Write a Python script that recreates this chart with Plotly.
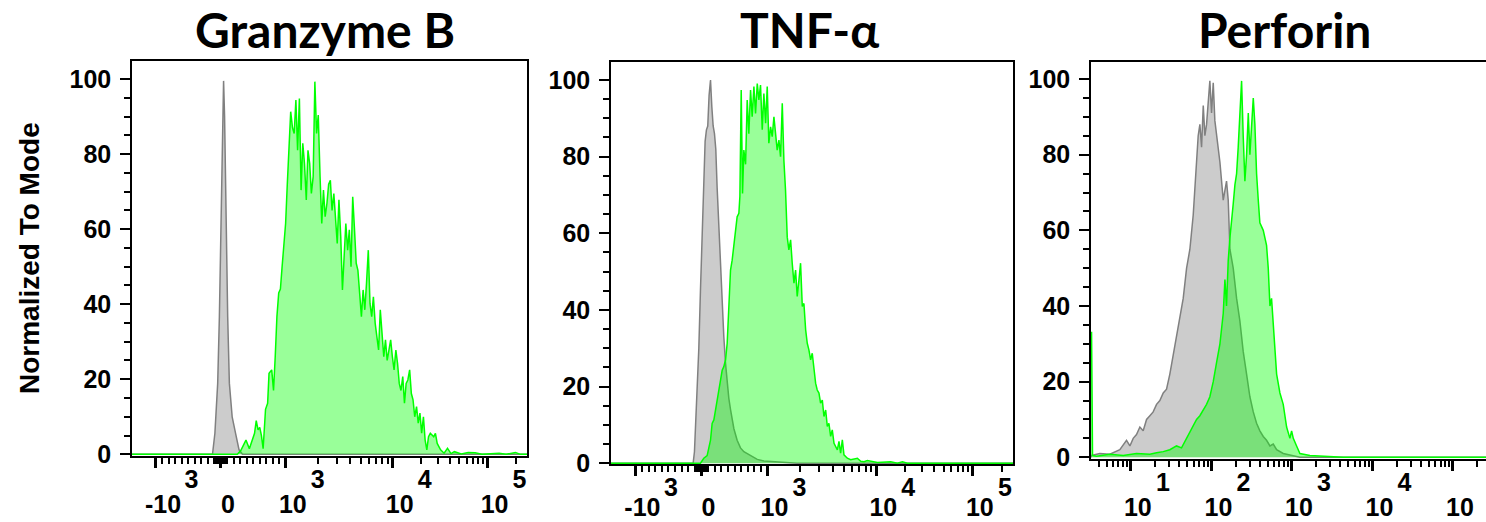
import math
import plotly.graph_objects as go

# ---------------- data ----------------
# Granzyme B and TNF-a: x in biexponential display channels (0 = zero signal),
# y in percent of mode. Perforin: x in log10 of intensity.
titles = ["Granzyme B", "TNF-α", "Perforin"]
y_title = "Normalized To Mode"

gzb_gray_x = [-89, -8.4, -6.0, -3.2, -1.5, 0.2, 1.6, 2.7, 3.7, 5.1, 6.8, 8.5, 11.3, 14.7, 18.2, 21.6, 306.5]
gzb_gray_y = [0, 0, 5.6, 18.9, 36.7, 63.3, 90, 99.5, 90, 63.3, 36.7, 18.9, 10, 5.6, 1.2, 0, 0]

gzb_green_x = [-89, 16.5, 19.9, 25.1, 28.5, 33.7, 35.4, 37.2, 38.9, 40.6, 42.3, 44.7, 46.8, 48.2, 50.9,
               52.7, 54.4, 56.1, 57.9, 59.6, 61.3, 63.0, 64.8, 66.5, 68.2, 69.9, 71.7, 73.4, 75.1, 76.8,
               78.6, 80.3, 82.0, 83.7, 85.5, 87.2, 88.9, 90.6, 92.4, 94.1, 95.8, 97.5, 99.3, 101.0, 102.7,
               104.4, 106.2, 107.9, 109.6, 111.3, 113.1, 114.8, 116.5, 118.2, 120.0, 121.7, 123.4,
               125.1, 126.9, 128.6, 130.3, 132.0, 133.8, 135.5, 137.2, 138.9, 140.7, 142.4, 144.1, 145.8,
               147.6, 149.3, 151.0, 152.7, 154.5, 156.2, 157.9, 159.6, 161.4, 163.1, 164.8, 166.5, 168.3,
               170.0, 171.7, 173.4, 175.2, 176.9, 178.6, 180.3, 182.1, 183.8, 185.5, 187.2, 189.0, 190.7,
               192.4, 194.1, 195.9, 197.6, 199.3, 201.0, 202.8, 204.5, 206.2, 207.9, 209.7,
               213.1, 214.8, 216.6, 220.0, 223.5, 226.9, 230.4, 233.8, 240.7, 247.6, 254.5, 261.4,
               278.6, 285.6, 294.9, 299.4, 306.5]
gzb_green_y = [0, 0, 1.0, 3.8, 1.5, 5.6, 9.0, 6.5, 7.2, 5.0, 1.5, 12.0, 13.6, 21.6, 22.5,
               17.0, 26.0, 36.7, 43.0, 44.0, 50.0, 55.0, 61.5, 72.0, 82.0, 91.3, 87.0, 85.5, 94.4, 81.0,
               94.8, 70.4, 82.9, 77.5, 67.8, 81.0, 77.5, 69.5, 74.0, 99.3, 85.5, 90.4, 74.0, 61.5, 70.4,
               63.3, 66.9, 72.0, 73.0, 65.0, 69.5, 61.5, 56.2, 67.8, 58.0, 43.8, 52.7,
               61.5, 54.4, 59.8, 50.0, 68.6, 59.8, 50.9, 49.0, 42.0, 36.7, 43.8, 38.5, 45.6,
               54.4, 40.2, 36.7, 42.0, 34.9, 31.3, 27.8, 38.5, 31.3, 26.0, 30.5, 25.0, 27.8,
               30.5, 26.0, 22.5, 27.8, 24.2, 18.9, 17.0, 20.7, 13.6, 18.9, 19.8, 22.5, 16.2,
               14.5, 10.0, 12.7, 8.3, 11.0, 5.6, 10.0, 3.8, 1.2, 4.7, 5.6,
               4.7, 5.6, 2.9, 1.2, 0.3, 1.6, 0.2, 0.7, 0.1, 0.5, 0.4, 0,
               0.3, 0, 0.5, 0, 0]

tnf_gray_x = [-89, -8.2, -6.9, -5.6, -4.3, -2.6, -1.0, 0.7, 2.3, 3.6, 4.9, 6.2, 7.5, 8.9, 10.2, 11.5,
              12.8, 14.1, 15.4, 16.8, 18.1, 19.4, 20.7, 22.0, 23.7, 25.3, 26.9, 28.6, 30.2, 31.9, 35.1,
              38.4, 41.7, 45.0, 48.3, 54.9, 61.4, 77.8, 94.2, 306.5]
tnf_gray_y = [0, 0, 3, 10, 18, 30, 45, 58, 72, 84, 87, 88, 96, 100, 93, 88,
              86, 82, 72, 63, 56, 48, 40, 33, 26, 21, 17, 14, 11, 9, 6,
              4, 3, 2.5, 2, 1, 0.6, 0.3, 0, 0]

tnf_green_x = [-89, -1.0, 2.3, 5.6, 8.9, 10.5, 12.2, 13.8, 15.4, 17.1, 18.7, 20.4, 22.0, 23.7, 25.3,
               26.9, 28.6, 30.2, 31.9, 33.5, 35.1, 36.8, 37.8, 39.1, 40.4, 41.7, 43.4, 45.0, 46.6,
               48.3, 49.9, 51.6, 53.2, 54.9, 56.5, 58.1, 59.8, 61.4, 63.1, 64.7, 66.3, 68.0, 69.6,
               71.3, 72.9, 74.5, 76.2, 77.8, 79.5, 81.1, 82.7, 84.4, 86.0, 87.7, 89.3, 91.0, 92.6,
               94.2, 95.9, 97.5, 99.2, 100.8, 102.5, 104.1, 105.7, 107.4, 109.0, 110.7, 112.3, 113.9,
               115.6, 117.2, 118.9, 120.5, 122.2, 123.8, 125.4, 127.1, 128.7, 130.4, 132.0, 133.7,
               135.3, 136.9, 138.6, 140.2, 143.5, 146.8, 153.4, 156.7, 159.9, 163.2, 173.1, 186.2,
               192.8, 197.7, 202.6, 306.5]
tnf_green_y = [0, 0, 1.3, 2.0, 6.0, 10.4, 11.3, 14.0, 16.5, 19.0, 22.6, 24.3, 25.2, 27.0, 31.3,
               41.7, 50.4, 53.0, 56.5, 60.9, 64.3, 65.2, 69.6, 97.4, 70.4, 81.7, 78.0, 94.8, 86.0,
               97.4, 90.4, 98.3, 91.3, 99.1, 94.8, 98.7, 87.0, 96.5, 88.7, 98.3, 83.5, 87.8, 85.2,
               90.4, 86.0, 81.7, 84.3, 80.0, 93.9, 79.0, 71.3, 59.0, 55.7, 58.3, 52.2, 47.0, 50.4,
               43.5, 47.8, 52.2, 40.9, 41.7, 34.8, 31.3, 29.6, 27.0, 28.7, 24.3, 20.9, 19.1,
               18.3, 15.7, 16.5, 12.2, 13.9, 9.6, 10.4, 7.0, 8.7, 5.2, 4.3, 3.5,
               5.7, 2.6, 6.1, 2.2, 1.3, 0.9, 1.3, 0.5, 0.4, 0.7, 0.2, 0.4,
               0, 0.35, 0, 0]

perf_gray_logx = [0.505, 0.512, 0.615, 0.739, 0.863, 0.946, 0.988, 1.029, 1.070, 1.112, 1.153, 1.195,
                  1.236, 1.277, 1.319, 1.360, 1.402, 1.443, 1.484, 1.526, 1.567, 1.609, 1.650, 1.692,
                  1.733, 1.774, 1.816, 1.836, 1.857, 1.878, 1.899, 1.919, 1.940, 1.961, 1.981, 2.002,
                  2.023, 2.043, 2.064, 2.106, 2.147, 2.188, 2.209, 2.230, 2.271, 2.313, 2.354, 2.395,
                  2.437, 2.478, 2.520, 2.561, 2.602, 2.644, 2.685, 2.727, 2.768, 2.810, 2.892, 3.017,
                  3.099, 5.41]
perf_gray_y = [0, 0.5, 1.0, 0.8, 2.0, 4.5, 3.0, 5.0, 6.0, 8.0, 7.0, 10.0,
               11.0, 12.0, 14.0, 15.0, 17.0, 18.0, 22.0, 27.0, 32.0, 36.0, 42.0, 50.0,
               55.0, 64.0, 78.0, 85.0, 88.0, 82.0, 93.0, 85.0, 88.0, 95.0, 99.5, 91.0,
               99.0, 89.0, 85.0, 78.0, 68.0, 73.0, 68.0, 55.0, 50.0, 42.0, 36.0, 28.0,
               22.0, 16.0, 12.0, 9.0, 7.0, 5.5, 4.5, 3.0, 3.5, 2.0, 1.0, 0.5,
               0, 0]

perf_green_logx = [0.505, 0.512, 0.524, 0.574, 0.739, 0.905, 1.070, 1.236, 1.319, 1.402, 1.484, 1.567,
                   1.629, 1.692, 1.733, 1.774, 1.816, 1.857, 1.899, 1.940, 1.981, 2.023, 2.064, 2.106,
                   2.147, 2.168, 2.188, 2.209, 2.230, 2.251, 2.271, 2.292, 2.313, 2.333, 2.354, 2.375,
                   2.395, 2.416, 2.437, 2.458, 2.478, 2.499, 2.520, 2.540, 2.561, 2.582, 2.602, 2.644,
                   2.685, 2.706, 2.727, 2.747, 2.768, 2.789, 2.810, 2.851, 2.892, 2.934, 2.975, 2.996,
                   3.017, 3.058, 3.099, 3.224, 3.431, 3.638, 5.41]
perf_green_y = [33, 33, 0.5, 0.3, 0.8, 0.5, 1.0, 0.8, 1.2, 1.5, 2.0, 3.0,
                2.5, 5.0, 7.0, 8.5, 10.0, 11.0, 12.5, 14.0, 16.0, 20.0, 25.0, 30.0,
                38.0, 47.0, 40.0, 52.0, 58.0, 62.0, 67.0, 72.0, 75.0, 82.0, 90.0, 99.5,
                85.0, 73.0, 80.0, 91.0, 80.0, 87.0, 95.0, 88.0, 75.0, 68.0, 62.0, 60.0,
                56.0, 50.0, 40.0, 42.0, 35.0, 30.0, 22.0, 17.0, 14.0, 8.0, 5.0, 7.0,
                5.0, 3.0, 1.0, 0.5, 0.3, 0, 0]

# axis ticks
biex_major = [-1e3, 0, 1e3, 1e4, 1e5]
biex_base = ["-10", "0", "10", "10", "10"]
biex_exp = ["\u00a03", "", "3", "4", "5"]
log_major = [1e1, 1e2, 1e3, 1e4, 1e5]
log_base = ["10", "10", "10", "10", "10"]
log_exp = ["1", "2", "3", "4", "5"]
y_major = [0, 20, 40, 60, 80, 100]

GRAY_LINE = "rgb(128,128,128)"
GRAY_FILL = "rgb(204,204,204)"
GREEN_LINE = "rgb(0,255,0)"
GREEN_FILL = "rgba(0,255,0,0.4)"
TICK_FONT = dict(family="Liberation Sans, Arial, sans-serif", size=25, color="black", weight="bold")

W, H = 1486, 522


def biex(v):
    # approximate display transform of the cytometry software
    a = abs(v)
    if a <= 1e3:
        d = 65.0 * a / 1e3
    elif a <= 1e4:
        d = 65.0 + 107.0 * math.log10(a / 1e3)
    else:
        d = 172.0 + 95.0 * math.log10(a / 1e4)
    return d if v >= 0 else -d


biex_minor = ([s * k * 100 for s in (-1, 1) for k in range(1, 10)]
              + [s * k * 10 for s in (-1, 1) for k in range(1, 10)]
              + [k * 1e3 for k in range(2, 10)] + [k * 1e4 for k in range(2, 10)] + [2e5])
log_minor = [k * 10 ** n for n in range(0, 5) for k in range(2, 10)] + [2e5]

fig = go.Figure()

panels = [
    ("x", "y", gzb_gray_x, gzb_gray_y, gzb_green_x, gzb_green_y),
    ("x2", "y2", tnf_gray_x, tnf_gray_y, tnf_green_x, tnf_green_y),
    ("x3", "y3", [10 ** v for v in perf_gray_logx], perf_gray_y,
     [10 ** v for v in perf_green_logx], perf_green_y),
]
for xa, ya, gx, gy, cx, cy in panels:
    fig.add_trace(go.Scatter(x=gx, y=gy, xaxis=xa, yaxis=ya, mode="lines", fill="tozeroy",
                             line=dict(color=GRAY_LINE, width=1.5), fillcolor=GRAY_FILL,
                             showlegend=False, hoverinfo="skip"))
    fig.add_trace(go.Scatter(x=cx, y=cy, xaxis=xa, yaxis=ya, mode="lines", fill="tozeroy",
                             line=dict(color=GREEN_LINE, width=1.5), fillcolor=GREEN_FILL,
                             showlegend=False, hoverinfo="skip"))

# empty traces so the exponent label axes get a subplot
for k, ya in zip((4, 5, 6), ("y", "y2", "y3")):
    fig.add_trace(go.Scatter(x=[], y=[], xaxis="x%d" % k, yaxis=ya, showlegend=False))

# panel boxes in pixels: left, right, top, bottom
boxes = [(132, 527, 61, 456), (611, 1013, 62, 464), (1091, 1486, 62, 459)]
y_ranges = [[-0.45, 104.8], [-0.2, 104.7], [-0.45, 104.5]]
base_standoff = [15, 10, 15]


def scale_args(i):
    if i < 2:
        return dict(range=[-89, 306.5], tickvals=[biex(v) for v in biex_major])
    return dict(type="log", range=[0.505, 5.41], tickvals=log_major)


def x_axis(i, box):
    ax = dict(domain=[box[0] / W, box[1] / W], anchor="y" if i == 0 else "y%d" % (i + 1),
              ticks="outside", ticklen=10, tickwidth=3, tickcolor="black",
              showline=True, linewidth=1.5, linecolor="black", mirror=True,
              showgrid=False, zeroline=False, tickfont=TICK_FONT, tickangle=0,
              ticklabelshift=7, ticklabelstandoff=base_standoff[i], tickmode="array",
              ticktext=biex_base if i < 2 else log_base,
              minor=dict(tickmode="array", ticks="outside", ticklen=6, tickwidth=1.5,
                         tickcolor="black", showgrid=False,
                         tickvals=[biex(v) for v in biex_minor] if i < 2 else log_minor))
    ax.update(scale_args(i))
    return ax


def exp_axis(i, box):
    # exponents of the power-of-ten tick labels, raised and to the right
    ax = dict(overlaying="x" if i == 0 else "x%d" % (i + 1),
              anchor="y" if i == 0 else "y%d" % (i + 1), side="bottom",
              ticks="", showline=False, showgrid=False, zeroline=False,
              tickfont=TICK_FONT, tickangle=0, tickmode="array",
              ticktext=biex_exp if i < 2 else log_exp,
              ticklabelshift=32, ticklabelstandoff=6)
    ax.update(scale_args(i))
    return ax


def y_axis(i, box):
    return dict(domain=[1 - box[3] / H, 1 - box[2] / H], anchor="x" if i == 0 else "x%d" % (i + 1),
                range=y_ranges[i], tickmode="array", tickvals=y_major,
                ticks="outside", ticklen=10, tickwidth=2, tickcolor="black",
                minor=dict(tickmode="linear", tick0=0, dtick=5, ticks="outside", ticklen=6,
                           tickwidth=1.5, tickcolor="black", showgrid=False),
                showline=True, linewidth=1.5, linecolor="black", mirror=(i < 2),
                showgrid=False, zeroline=False, tickfont=TICK_FONT, ticklabelstandoff=4)


layout = dict(template="none", width=W, height=H, paper_bgcolor="white", plot_bgcolor="white",
              margin=dict(l=0, r=0, t=0, b=0, pad=0), showlegend=False)
for i, box in enumerate(boxes):
    sfx = "" if i == 0 else str(i + 1)
    layout["xaxis" + sfx] = x_axis(i, box)
    layout["yaxis" + sfx] = y_axis(i, box)
    layout["xaxis%d" % (i + 4)] = exp_axis(i, box)
fig.update_layout(**layout)

title_x = [325, 809, 1284]
for t, px in zip(titles, title_x):
    fig.add_annotation(text=t, x=px / W, y=1, xref="paper", yref="paper",
                       xanchor="center", yanchor="top", showarrow=False, borderpad=0,
                       font=dict(family="Lato, Noto Sans, sans-serif", size=48, color="black",
                                 weight="bold"))
fig.add_annotation(text=y_title, x=29 / W, y=1 - 258 / H, xref="paper", yref="paper",
                   xanchor="center", yanchor="middle", textangle=-90, showarrow=False,
                   font=dict(family="Liberation Sans, Arial, sans-serif", size=28, color="black",
                             weight="bold"))

fig.write_html("out.html", config={"displayModeBar": False},
               post_script="document.body.style.margin = '0px';")
